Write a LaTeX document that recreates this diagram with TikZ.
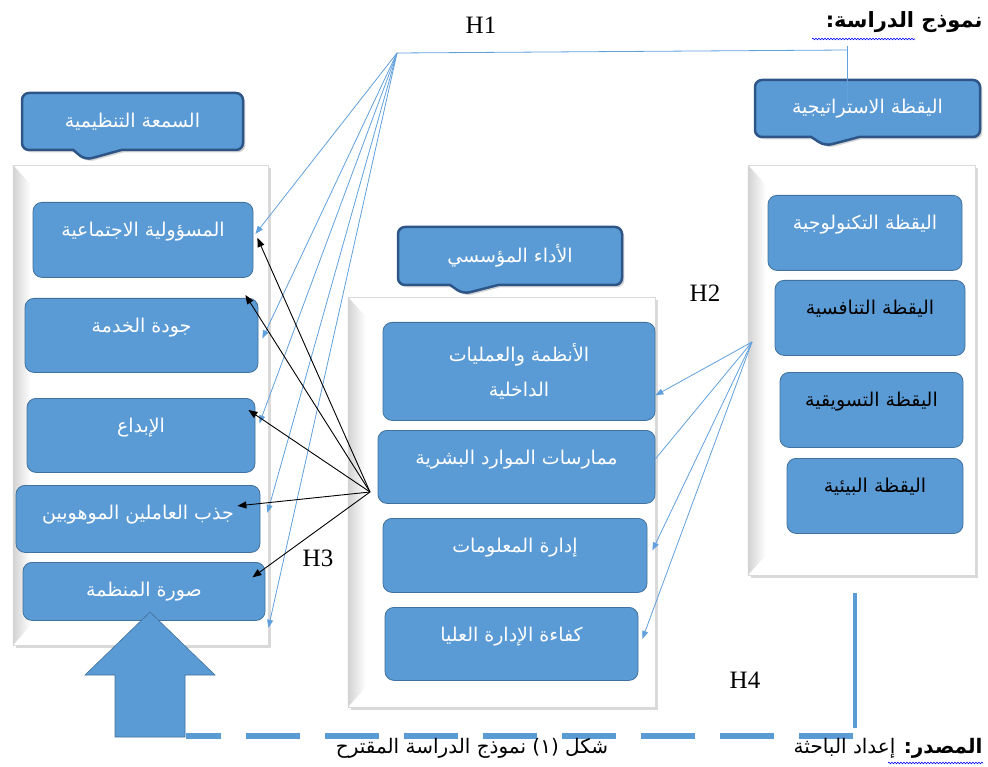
\documentclass[tikz,border=0pt]{standalone}
\usepackage{fontspec}
\setmainfont{Liberation Serif}
\newfontfamily\arabicfont[Script=Arabic]{DejaVu Sans}
\TeXXeTstate=1
\usetikzlibrary{shapes.callouts,shadows,arrows.meta,decorations.pathmorphing}

\definecolor{boxblue}{RGB}{91,155,213}
\definecolor{boxedge}{RGB}{65,113,156}
\definecolor{headedge}{RGB}{45,85,135}
\definecolor{linkblue}{RGB}{96,160,220}

\newcommand{\ar}[1]{{\arabicfont\beginR #1\endR}}

\tikzset{
	panel/.style={draw=gray!30, fill=white, drop shadow={opacity=.3, shadow xshift=3pt, shadow yshift=-3pt}},
	header/.style={rectangle callout, rounded corners=7pt, fill=boxblue, draw=headedge, line width=2.5pt, callout pointer width=48pt, text=white, font=\fontsize{19}{22}\selectfont, drop shadow={opacity=.35}},
	box/.style={rounded corners=9pt, fill=boxblue, draw=boxedge, line width=.8pt, text=white, align=center, anchor=north, font=\fontsize{19}{22}\selectfont},
	topbox/.style={box, inner ysep=12pt, text height=22pt, text depth=#1},
	link/.style={draw=linkblue, line width=.8pt},
	linkarrow/.style={link, -{Triangle[length=8pt,width=6pt]}},
	hthree/.style={black, line width=.9pt, -{Triangle[length=9pt,width=7pt]}},
	hlabel/.style={font=\fontsize{25}{28}\selectfont},
	hfour/.style={draw=boxblue, line width=6pt},
	spell/.style={draw=blue, line width=.6pt, decorate, decoration={snake, amplitude=.8pt, segment length=3pt}}
}

\begin{document}
\begin{tikzpicture}[x=1pt, y=-1pt]
	\useasboundingbox (0,0) rectangle (988,767);
	
	% panels
	\node[panel, minimum width=255pt, minimum height=480pt] (lp) at (140.5,405) {};
	\node[panel, minimum width=307pt, minimum height=410pt] (mp) at (501.5,502) {};
	\node[panel, minimum width=227pt, minimum height=410pt] (rp) at (861.5,370) {};
	\foreach \p in {lp,mp,rp}
	\shade[left color=gray!35, right color=white] (\p.north west) -- ([xshift=18pt,yshift=-20pt]\p.north west) -- ([xshift=18pt,yshift=20pt]\p.south west) -- (\p.south west) -- cycle;
	
	% headers
	\node[header, minimum width=221pt, minimum height=57pt, callout absolute pointer={(85,160)}] (lhead) at (132.5,121.5) {\ar{السمعة التنظيمية}};
	\node[header, minimum width=224pt, minimum height=58pt, callout absolute pointer={(463,294)}] (mhead) at (510,256) {\ar{الأداء المؤسسي}};
	\node[header, minimum width=225pt, minimum height=57pt, callout absolute pointer={(825,146)}] (rhead) at (867.5,108.5) {\ar{اليقظة الاستراتيجية}};
	
	% left boxes
	\node[topbox=29pt, minimum width=220pt] (l1) at (143,202) {\ar{المسؤولية الاجتماعية}};
	\node[topbox=28pt, minimum width=233pt] (l2) at (141.5,298) {\ar{جودة الخدمة}};
	\node[topbox=28pt, minimum width=228pt] (l3) at (141,398) {\ar{الإبداع}};
	\node[topbox=21pt, minimum width=244pt] (l4) at (138,485) {\ar{جذب العاملين الموهوبين}};
	\node[topbox=12pt, minimum width=242pt] (l5) at (144,562) {\ar{صورة المنظمة}};
	
	% middle boxes
	\node[box, minimum width=272pt, minimum height=98pt, font=\fontsize{19}{35}\selectfont] (m1) at (519,322) {\ar{الأنظمة والعمليات}\\\ar{الداخلية}};
	\node[topbox=27pt, minimum width=277pt] (m2) at (516.5,430) {\ar{ممارسات الموارد البشرية}};
	\node[topbox=28pt, minimum width=264pt] (m3) at (515,518) {\ar{إدارة المعلومات}};
	\node[topbox=27pt, minimum width=253pt] (m4) at (511.5,607) {\ar{كفاءة الإدارة العليا}};
	
	% right boxes
	\node[topbox=29pt, minimum width=194pt] (r1) at (865,195) {\ar{اليقظة التكنولوجية}};
	\node[topbox=29pt, minimum width=190pt, text=black] (r2) at (870,280) {\ar{اليقظة التنافسية}};
	\node[topbox=29pt, minimum width=183pt, text=black] (r3) at (871.5,372) {\ar{اليقظة التسويقية}};
	\node[topbox=29pt, minimum width=176pt, text=black] (r4) at (875,458) {\ar{اليقظة البيئية}};
	
	% H1
	\coordinate (h1) at (397,53);
	\coordinate (h1k) at (847,50);
	\coordinate (h1t) at (847,46);
	\draw[link] (h1t) -- (h1t |- rhead.center);
	\draw[link] (h1k) -- (h1);
	\draw[linkarrow] (h1) -- ([xshift=2pt,yshift=6pt]l1.east);
	\draw[linkarrow] (h1) -- ([xshift=4pt,yshift=-3pt]l2.east);
	\draw[linkarrow] (h1) -- ([xshift=4pt,yshift=12pt]l3.east);
	\draw[linkarrow] (h1) -- ([xshift=7pt,yshift=6pt]l4.east);
	\draw[linkarrow] (h1) -- ([xshift=3pt,yshift=-7pt]l5.south east);
	\node[hlabel] (h1lab) at (481,25) {H1};
	
	% H2
	\coordinate (h2) at (752,342);
	\draw[linkarrow] (h2) -- ([yshift=-24pt]m1.east);
	\draw[link] (h2) -- ([yshift=8pt]m2.east);
	\draw[linkarrow] (h2) -- ([xshift=5pt,yshift=5pt]m3.east);
	\draw[linkarrow] (h2) -- ([xshift=4pt,yshift=5pt]m4.east);
	\node[hlabel] (h2lab) at (705,293) {H2};
	
	% H3
	\coordinate (h3) at (370,492);
	\draw[hthree] (h3) -- ([xshift=4pt,yshift=2pt]l1.east);
	\draw[hthree] (h3) -- ([xshift=-13pt,yshift=3pt]l2.north east);
	\draw[hthree] (h3) -- ([xshift=-7pt,yshift=-12pt]l3.north east);
	\draw[hthree] (h3) -- ([xshift=-23pt,yshift=13pt]l4.east);
	\draw[hthree] (h3) -- ([xshift=-13pt,yshift=14pt]l5.east);
	\node[hlabel] (h3lab) at (318,558) {H3};
	
	% H4
	\coordinate (h4top) at (855,593);
	\coordinate (h4bot) at (855,728);
	\coordinate (h4corner) at (853,736);
	\coordinate (h4end) at (186,736);
	\draw[hfour, line width=4pt] (h4top) -- (h4bot);
	\draw[hfour, dash pattern=on 54pt off 25pt] (h4corner) -- (h4end);
	\filldraw[fill=boxblue, draw=boxedge, line width=.6pt] (150,612) -- (215,675) -- (185,675) -- (185,737) -- (115,737) -- (115,675) -- (85,675) -- cycle;
	\node[hlabel] (h4lab) at (745,680) {H4};
	
	% titles
	\node[anchor=east, font=\bfseries\fontsize{21}{24}\selectfont] (title) at (986,22) {\ar{نموذج الدراسة:}};
	\draw[spell] (812,39) -- (915,39);
	\node[font=\fontsize{20}{23}\selectfont] (caption) at (472,748) {\ar{شكل (١) نموذج الدراسة المقترح}};
	\node[anchor=east, font=\fontsize{20}{23}\selectfont] (source) at (986,748) {\ar{{\bfseries المصدر:} إعداد الباحثة}};
	\draw[spell] (888,763) -- (983,763);
	
\end{tikzpicture}
\end{document}
